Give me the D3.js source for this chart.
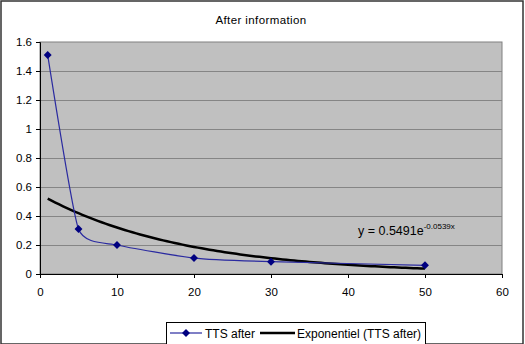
<!DOCTYPE html>
<html>
<head>
<meta charset="utf-8">
<script src="https://cdn.jsdelivr.net/npm/d3@7"></script>
<style>
  body { margin: 0; background: #fff; }
  svg text { font-family: "Liberation Sans", Arial, sans-serif; fill: #000; }
</style>
</head>
<body>
<div id="chart"></div>
<script>
(function () {
  'use strict';

  // data
  var xs = [1, 5, 10, 20, 30, 50];
  var ys = [1.51, 0.31, 0.2, 0.11, 0.085, 0.06];
  var xTicks = [0, 10, 20, 30, 40, 50, 60];
  var yTicks = [0, 0.2, 0.4, 0.6, 0.8, 1, 1.2, 1.4, 1.6];
  // exponential trendline as printed on the chart
  var trendA = 0.5491;
  var trendB = -0.0539;
  var seriesNames = ['TTS after', 'Exponentiel (TTS after)'];

  var W = 525, H = 344;
  var plot = { left: 40, right: 502, top: 42, bottom: 274 };

  var svg = d3.select('#chart').append('svg')
    .attr('width', W).attr('height', H);

  /* outer frame */
  svg.append('rect')
    .attr('x', 1).attr('y', 1).attr('width', W - 3).attr('height', H - 1)
    .attr('fill', '#fff').attr('stroke', '#333').attr('stroke-width', 1.5);

  var x = d3.scaleLinear().domain([0, 60]).range([plot.left, plot.right]);
  var y = d3.scaleLinear().domain([0, 1.6]).range([plot.bottom, plot.top]);

  /* plot area */
  svg.append('rect')
    .attr('x', plot.left).attr('y', plot.top)
    .attr('width', plot.right - plot.left).attr('height', plot.bottom - plot.top)
    .attr('fill', '#c0c0c0').attr('stroke', '#808080').attr('stroke-width', 1);

  /* gridlines */
  svg.append('g').selectAll('line')
    .data(yTicks.slice(1, -1))
    .join('line')
    .attr('x1', plot.left).attr('x2', plot.right)
    .attr('y1', function (d) { return Math.round(y(d)) + 0.5; })
    .attr('y2', function (d) { return Math.round(y(d)) + 0.5; })
    .attr('stroke', '#858585').attr('stroke-width', 1);

  /* axes */
  var yAxis = svg.append('g')
    .attr('transform', 'translate(' + plot.left + ',0)')
    .call(d3.axisLeft(y).tickValues(yTicks).tickSize(4).tickPadding(4)
      .tickFormat(function (d) { return String(d); }));
  var xAxis = svg.append('g')
    .attr('transform', 'translate(0,' + plot.bottom + ')')
    .call(d3.axisBottom(x).tickValues(xTicks).tickSize(4).tickPadding(10)
      .tickFormat(d3.format('d')));
  [yAxis, xAxis].forEach(function (a) {
    a.select('.domain').attr('stroke', '#000');
    a.selectAll('.tick line').attr('stroke', '#000');
    a.selectAll('text').attr('font-size', 11.5)
      .style('font-family', '"Liberation Sans", Arial, sans-serif');
  });

  /* trendline */
  var trendPts = d3.range(xs[0], xs[xs.length - 1] + 0.001, 0.5).map(function (v) {
    return [v, trendA * Math.exp(trendB * v)];
  });
  svg.append('path')
    .datum(trendPts)
    .attr('fill', 'none').attr('stroke', '#000').attr('stroke-width', 2.5)
    .attr('d', d3.line()
      .x(function (d) { return x(d[0]); })
      .y(function (d) { return y(d[1]); }));

  /* series (Excel-style smoothed line) */
  var pts = xs.map(function (v, i) { return [v, ys[i]]; });
  svg.append('path')
    .datum(pts)
    .attr('fill', 'none').attr('stroke', '#2a2aa0').attr('stroke-width', 1.2)
    .attr('d', d3.line().curve(d3.curveCardinal.tension(0.5))
      .x(function (d) { return x(d[0]); })
      .y(function (d) { return y(d[1]); }));

  var diamond = d3.symbol().type(d3.symbolDiamond2).size(40);
  svg.append('g').selectAll('path')
    .data(pts)
    .join('path')
    .attr('transform', function (d) { return 'translate(' + x(d[0]) + ',' + y(d[1]) + ')'; })
    .attr('d', diamond)
    .attr('fill', '#000080');

  /* equation label */
  var eq = svg.append('text')
    .attr('x', 358).attr('y', 235).attr('font-size', 12.5);
  eq.append('tspan').text('y = ' + trendA + 'e');
  eq.append('tspan').attr('font-size', 8).attr('dy', -6).text(trendB + 'x');

  /* title */
  svg.append('text')
    .attr('x', 261).attr('y', 24).attr('text-anchor', 'middle')
    .attr('font-size', 11.5).attr('letter-spacing', 0.4)
    .text('After information');

  /* legend */
  var lg = svg.append('g');
  lg.append('rect')
    .attr('x', 166.5).attr('y', 322.5).attr('width', 259).attr('height', 30)
    .attr('fill', '#fff').attr('stroke', '#000').attr('stroke-width', 1);
  lg.append('line')
    .attr('x1', 170).attr('x2', 202).attr('y1', 333).attr('y2', 333)
    .attr('stroke', '#2a2aa0').attr('stroke-width', 1.2);
  lg.append('path')
    .attr('transform', 'translate(186,333)')
    .attr('d', diamond).attr('fill', '#000080');
  lg.append('text').attr('x', 205).attr('y', 337.5).attr('font-size', 12)
    .text(seriesNames[0]);
  lg.append('line')
    .attr('x1', 260).attr('x2', 295).attr('y1', 333).attr('y2', 333)
    .attr('stroke', '#000').attr('stroke-width', 2.5);
  lg.append('text').attr('x', 297).attr('y', 337.5).attr('font-size', 12)
    .text(seriesNames[1]);
})();
</script>
</body>
</html>
